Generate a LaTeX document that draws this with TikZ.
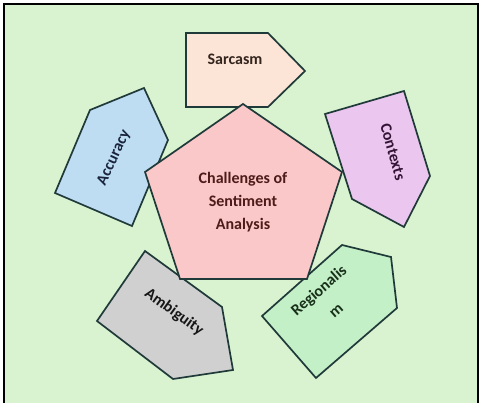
\documentclass[tikz,border=0pt]{standalone}
\usepackage{fontspec}
\setmainfont{Carlito}
\definecolor{bggreen}{HTML}{D9F2D0}
\definecolor{edge}{HTML}{203A3A}
\definecolor{sarcfill}{HTML}{FCE4D6}
\definecolor{sarctext}{HTML}{33251D}
\definecolor{accfill}{HTML}{BEDDF3}
\definecolor{acctext}{HTML}{1A253C}
\definecolor{ctxfill}{HTML}{EBC6EE}
\definecolor{ctxtext}{HTML}{331436}
\definecolor{regfill}{HTML}{C4F0C8}
\definecolor{regtext}{HTML}{19311A}
\definecolor{ambfill}{HTML}{D0D0D0}
\definecolor{ambtext}{HTML}{161616}
\definecolor{pentfill}{HTML}{FAC8C8}
\definecolor{pentext}{HTML}{4E1A1A}

\begin{document}
\begin{tikzpicture}[x=1pt, y=-1pt, line join=miter]
    \tikzset{
        side/.style={draw=edge, line width=1.7pt},
        word/.style={font=\bfseries\fontsize{16}{23}\selectfont, align=center, inner sep=0pt},
    }
    \useasboundingbox(0, 0)rectangle(480, 403);
    \clip(0, 0)rectangle(480, 403);
    \draw[line width=1.8pt, fill=bggreen](4, 4)rectangle(478, 420);
    % satellites
    \draw[side, fill=sarcfill](186, 33)--(268, 33)--(305, 71)--(268, 107)--(186, 107)--cycle;
    \node[word, text=sarctext](sarcasm)at(235, 59){Sarcasm};
    \draw[side, fill=accfill](144, 88)--(168, 140)--(132, 226)--(55, 193)--(90, 110)--cycle;
    \node[word, text=acctext, rotate=65](accuracy)at(114, 158){Accuracy};
    \draw[side, fill=ctxfill](325, 114)--(404, 91)--(430, 176)--(404, 227)--(352, 199)--cycle;
    \node[word, text=ctxtext, rotate=-74](contexts)at(393, 152){Contexts};
    \draw[side, fill=regfill](342, 245)--(391, 257)--(397, 308)--(316, 378)--(262, 316)--cycle;
    \node[word, text=regtext, rotate=41, font=\bfseries\fontsize{16}{26}\selectfont](regionalism)at(327, 300){Regionalis\\m};
    \draw[side, fill=ambfill](145, 251)--(222, 307)--(233, 370)--(173, 379)--(97, 321)--cycle;
    \node[word, text=ambtext, rotate=-36](ambiguity)at(174, 312){Ambiguity};
    % centre
    \draw[side, fill=pentfill](243, 104)--(342, 172)--(307, 279)--(180, 279)--(145, 172)--cycle;
    \node[word, text=pentext](challenges)at(243, 202){Challenges of\\Sentiment\\Analysis};
\end{tikzpicture}
\end{document}
